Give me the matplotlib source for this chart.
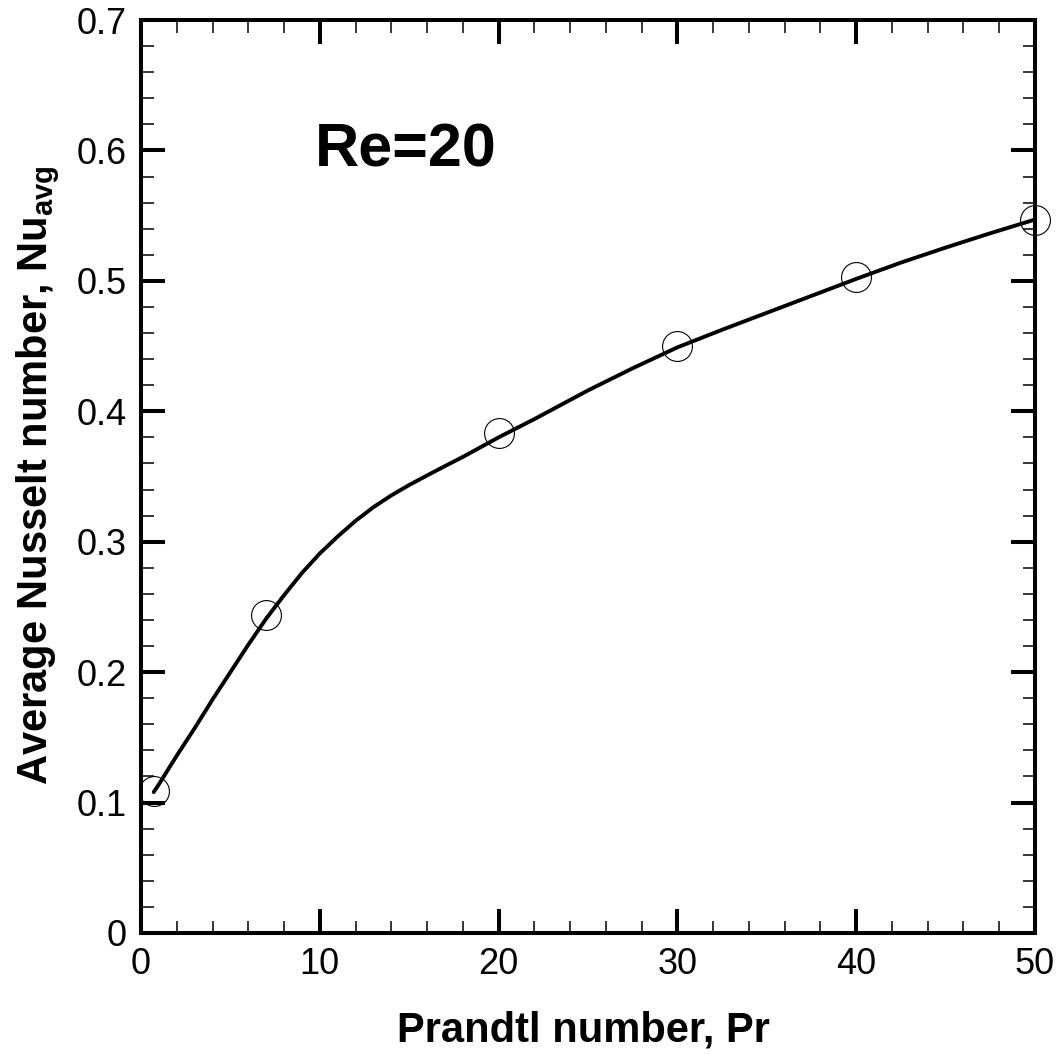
import matplotlib
matplotlib.use("Agg")
import matplotlib.pyplot as plt
from matplotlib.ticker import MultipleLocator, FixedLocator, FixedFormatter

# ---- data ----
pr_points = [0.71, 7, 20, 30, 40, 50]
nu_points = [0.109, 0.244, 0.383, 0.450, 0.503, 0.547]

pr_curve = [0.71, 1, 2, 3, 4, 5, 6, 7, 8, 9, 10, 11, 12, 13, 14, 15, 16, 17, 18, 19, 20,
            22, 25, 27.5, 30, 32.5, 35, 37.5, 40, 42.5, 45, 47.5, 50]
nu_curve = [0.108, 0.114, 0.136, 0.157, 0.179, 0.200, 0.221, 0.241, 0.259, 0.276, 0.291,
            0.304, 0.316, 0.3265, 0.3355, 0.3435, 0.3508, 0.358, 0.365, 0.3725, 0.380,
            0.394, 0.416, 0.433, 0.449, 0.4625, 0.4755, 0.4885, 0.5015, 0.514, 0.5255,
            0.5365, 0.547]

x_ticks = [0, 10, 20, 30, 40, 50]
x_tick_labels = ["0", "10", "20", "30", "40", "50"]
y_ticks = [0, 0.1, 0.2, 0.3, 0.4, 0.5, 0.6, 0.7]
y_tick_labels = ["0", "0.1", "0.2", "0.3", "0.4", "0.5", "0.6", "0.7"]

plt.rcParams['font.family'] = ['Liberation Sans', 'DejaVu Sans']
plt.rcParams['mathtext.fontset'] = 'custom'
plt.rcParams['mathtext.rm'] = 'Liberation Sans:bold'
plt.rcParams['mathtext.default'] = 'rm'

fig = plt.figure(figsize=(10.6, 10.55), dpi=100)
ax = fig.add_axes([141/1060, 1-933/1055, 894/1060, 913/1055])

ax.plot(pr_curve, nu_curve, color='black', lw=2.8, zorder=3,
        solid_capstyle='round', solid_joinstyle='round')
ax.plot(pr_points, nu_points, linestyle='none', marker='o', markersize=21.5,
        markerfacecolor='none', markeredgecolor='black', markeredgewidth=0.8,
        clip_on=False, zorder=4)

ax.set_xlim(0, 50)
ax.set_ylim(0, 0.7)
ax.xaxis.set_major_locator(FixedLocator(x_ticks))
ax.xaxis.set_major_formatter(FixedFormatter(x_tick_labels))
ax.yaxis.set_major_locator(FixedLocator(y_ticks))
ax.yaxis.set_major_formatter(FixedFormatter(y_tick_labels))
ax.xaxis.set_minor_locator(MultipleLocator(2))
ax.yaxis.set_minor_locator(MultipleLocator(0.02))

ax.tick_params(which='both', direction='in', top=True, right=True)
ax.tick_params(which='major', length=17, width=2.9, labelsize=26, pad=10)
ax.tick_params(which='minor', length=9, width=1.1)
for s in ax.spines.values():
    s.set_linewidth(2.9)

ax.text(0.195, 0.839, 'Re=20', transform=ax.transAxes, va='baseline', ha='left',
        fontsize=44, fontweight='bold')

fig.text(583/1060, 1-1042/1055, 'Prandtl number, Pr', ha='center', va='baseline',
         fontsize=30, fontweight='bold')
fig.text(38/1060, 1-475/1055, r'Average Nusselt number, Nu$_{\rm avg}$', ha='center',
         va='center', rotation=90, fontsize=30, fontweight='bold')

fig.savefig('out.png', dpi=100)
